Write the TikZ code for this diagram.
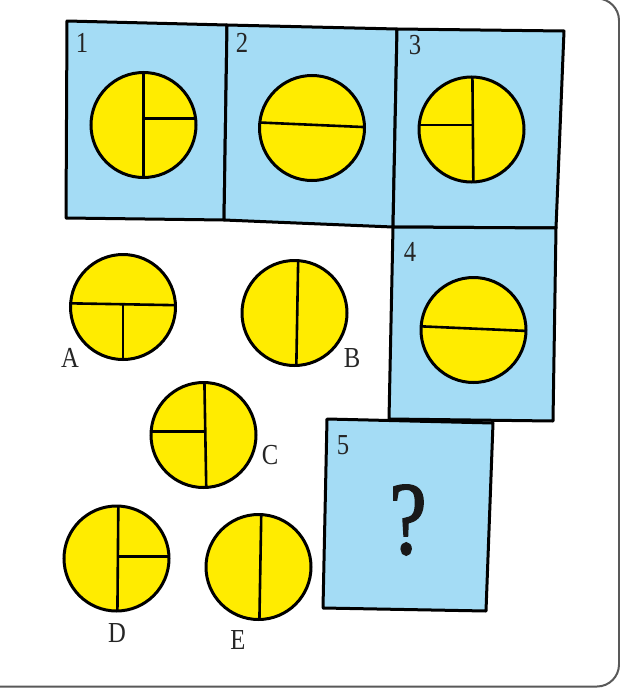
\documentclass[tikz,border=0pt]{standalone}
\usepackage{fontspec}
\setmainfont{Liberation Serif}[FakeStretch=0.85]
\newfontfamily\qfont{Liberation Serif}[FakeStretch=0.8, FakeBold=1.6]
\definecolor{panelblue}{RGB}{164,220,245}
\definecolor{discyellow}{RGB}{255,236,0}
\tikzset{
  panel/.style={fill=panelblue, draw=black, line width=3pt, line join=round},
  disc/.style={circle, draw=black, fill=discyellow, line width=3pt, minimum size=105pt, inner sep=0pt, outer sep=0pt},
  split/.style={draw=black, line width=2.6pt},
  lbl/.style={font=\fontsize{29}{31}\selectfont, text=black!85, inner sep=0pt},
  qmark/.style={font=\qfont\fontsize{104}{108}\selectfont, text=black!90, inner sep=0pt},
  outerframe/.style={draw=black!65, line width=2pt}
}
\begin{document}
\begin{tikzpicture}[x=1pt,y=-1pt]
\clip (0,0) rectangle (620,688);
\fill[white] (0,0) rectangle (620,688);
% outer frame
\draw[outerframe, rounded corners=22pt] (-10,-1.5) -- (619,-1.5) -- (619,686.5) -- (-10,686.5);
% panels
\draw[panel] (67,21) -- (227,25) -- (224,220) -- (66,218) -- cycle;
\draw[panel] (227,25) -- (397,29) -- (393,227) -- (224,220) -- cycle;
\draw[panel] (397,29) -- (564,31) -- (556,228) -- (393,227) -- cycle;
\draw[panel] (393,227) -- (556,228) -- (553,421) -- (389,419) -- cycle;
\draw[panel] (327,419) -- (493,423) -- (486,611) -- (323,608) -- cycle;
% panel labels
\node[lbl] (n1) at (82,43) {1};
\node[lbl] (n2) at (242,43) {2};
\node[lbl] (n3) at (415,45) {3};
\node[lbl] (n4) at (410,252) {4};
\node[lbl] (n5) at (343,445) {5};
\node[qmark] (q) at (408,520) {?};
% discs
\node[disc] (c1) at (143.5,125) {};
\draw[split] (c1.north) -- (c1.south);
\draw[split] (c1.7) -- (c1.7 -| c1.center);
\node[disc] (c2) at (312,128) {};
\draw[split] (c2.174) -- (c2.1);
\node[disc] (c3) at (471.5,129.5) {};
\draw[split] (c3.89) -- (c3.272);
\draw[split] (c3.175) -- (c3.175 -| c3.center);
\node[disc] (c4) at (473.5,330) {};
\draw[split] (c4.176) -- (c4.-1);
% options
\node[disc] (ca) at (123,307) {};
\draw[split] (ca.176) -- (ca.2);
\draw[split] (ca.south) -- (ca.south |- ca.178);
\node[disc] (cb) at (294.5,313) {};
\draw[split] (cb.86) -- (cb.272);
\node[disc] (cc) at (203.5,435) {};
\draw[split] (cc.89) -- (cc.273);
\draw[split] (cc.176) -- (cc.176 -| cc.center);
\node[disc] (cd) at (116.5,558.5) {};
\draw[split] (cd.88) -- (cd.271);
\draw[split] (cd.2) -- (cd.2 -| cd.center);
\node[disc] (ce) at (258.5,567) {};
\draw[split] (ce.87) -- (ce.271);
% option labels
\node[lbl] (la) at (70,358) {A};
\node[lbl] (lb) at (352,358) {B};
\node[lbl] (lc) at (270,455) {C};
\node[lbl] (ld) at (117,633) {D};
\node[lbl] (le) at (238,640) {E};
\end{tikzpicture}
\end{document}
